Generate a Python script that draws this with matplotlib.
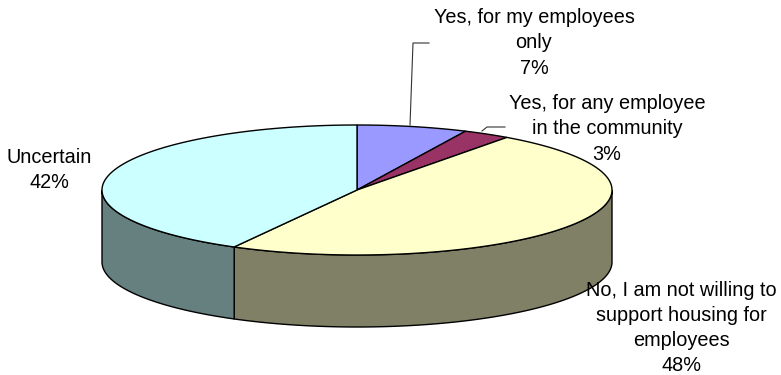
import numpy as np
import matplotlib.pyplot as plt
from matplotlib.patches import Polygon

plt.rcParams['font.family'] = ['Liberation Sans', 'DejaVu Sans']

labels = ["Yes, for my employees\nonly", "Yes, for any employee\nin the community",
          "No, I am not willing to\nsupport housing for\nemployees", "Uncertain"]
shares = [7, 3, 48, 42]
top_colors = ["#9999FF", "#993366", "#FFFFCC", "#CCFFFF"]
side_colors = ["#4D4D80", "#4D1A33", "#808066", "#668080"]

# ellipse geometry in pixel space
cx, cy = 357, 190
ra, rb = 255, 65
depth = 72


def arc(t0, t1, n=200, dy=0):
    t = np.radians(np.linspace(t0, t1, n))
    return np.column_stack([cx + ra * np.cos(t), cy - rb * np.sin(t) + dy])


fig = plt.figure(figsize=(7.81, 3.75), dpi=100)
ax = fig.add_axes([0, 0, 1, 1])
ax.set_xlim(0, 781)
ax.set_ylim(375, 0)
ax.axis('off')

# slice angles, clockwise from 12 o'clock
total = sum(shares)
bounds = [90.0]
for s in shares:
    bounds.append(bounds[-1] - 360.0 * s / total)

# front side walls (only the lower half of the rim is visible)
for i in range(len(shares)):
    lo, hi = bounds[i + 1], bounds[i]
    for wlo, whi in [(-180, 0), (180, 360), (-540, -360)]:
        a, b = max(lo, wlo), min(hi, whi)
        if a < b:
            top = arc(a, b)
            bot = arc(b, a, dy=depth)
            ax.add_patch(Polygon(np.vstack([top, bot]), closed=True,
                                 facecolor=side_colors[i], edgecolor='black', lw=1.0))

# top faces
for i in range(len(shares)):
    pts = np.vstack([[cx, cy], arc(bounds[i], bounds[i + 1])])
    ax.add_patch(Polygon(pts, closed=True, facecolor=top_colors[i],
                         edgecolor='black', lw=1.0))

# labels
label_pos = [(534, 43), (607, 129), (681, 328), (49, 170)]
for (x, y), lab, s in zip(label_pos, labels, shares):
    ax.text(x, y, f"{lab}\n{s}%", ha='center', va='center', fontsize=14.3,
            linespacing=1.42, color='black')

# leader lines
ax.plot([429, 413, 410], [43, 43, 125], color='#333333', lw=0.8)
ax.plot([505, 487, 482], [127, 127, 131], color='#333333', lw=0.8)

fig.savefig("out.png", dpi=100)
